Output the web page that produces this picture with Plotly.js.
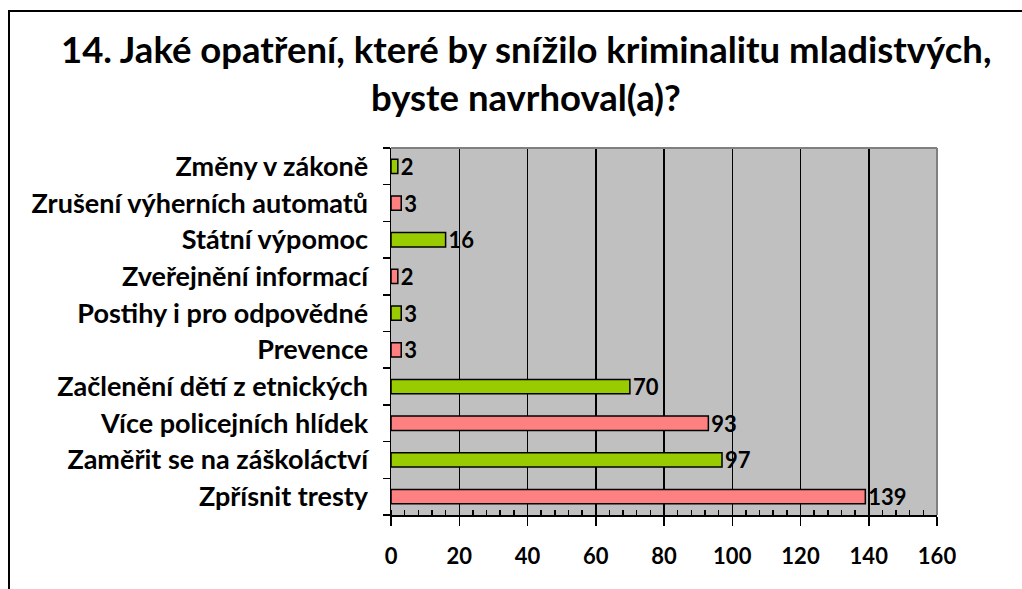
<!DOCTYPE html>
<html>
<head>
<meta charset="utf-8">
<script src="https://cdn.plot.ly/plotly-3.0.1.min.js"></script>
<style>
html,body{margin:0;padding:0;background:#fff;}
#chart{width:1022px;height:589px;}
</style>
</head>
<body>
<div id="chart"></div>
<script>
const categories = [
  "Zpřísnit tresty",
  "Zaměřit se na záškoláctví",
  "Více policejních hlídek",
  "Začlenění dětí z etnických",
  "Prevence",
  "Postihy i pro odpovědné",
  "Zveřejnění informací",
  "Státní výpomoc",
  "Zrušení výherních automatů",
  "Změny v zákoně"
];
const values = [139, 97, 93, 70, 3, 3, 2, 16, 3, 2];
const xTicks = [0, 20, 40, 60, 80, 100, 120, 140, 160];
const titleLines = [
  "14. Jaké opatření, které by snížilo kriminalitu mladistvých,",
  "byste navrhoval(a)?"
];

const PINK = "#FF8080", GREEN = "#99CC00";
const barColors = categories.map((c, i) => (i % 2 === 0 ? PINK : GREEN));

// plot area in pixels
const W = 1022, H = 589;
const L = 391, R = 937, T = 148, B = 515;
const pw = R - L, ph = B - T;
const px = x => (x - L) / pw;
const py = y => (B - y) / ph;

const FONT = "Lato, 'Open Sans', sans-serif";

const trace = {
  type: "bar",
  orientation: "h",
  y: categories,
  x: values,
  marker: { color: barColors, line: { color: "#000", width: 1.5 } },
  text: values.map(String),
  textposition: "outside",
  constraintext: "none",
  cliponaxis: false,
  textfont: { family: FONT, size: 22, color: "#000", weight: "bold" },
  hoverinfo: "skip"
};

const titleMid = [49, 97];
const annotations = titleLines.map((t, i) => ({
  text: t, showarrow: false,
  xref: "paper", yref: "paper",
  x: px(526), y: py(titleMid[i]),
  xanchor: "center", yanchor: "middle",
  font: { family: FONT, size: 36.5, color: "#000", weight: "bold" }
}));

const layout = {
  width: W, height: H,
  margin: { l: L, r: W - R, t: T, b: H - B, pad: 0 },
  paper_bgcolor: "#fff",
  plot_bgcolor: "#C0C0C0",
  showlegend: false,
  bargap: 0.61,
  annotations: annotations,
  xaxis: {
    range: [0, 160],
    tickvals: xTicks,
    ticktext: xTicks.map(String),
    showgrid: true, gridcolor: "#000", gridwidth: 1.5,
    zeroline: false,
    showline: true, linecolor: "#000", linewidth: 1.5,
    ticks: "outside", ticklen: 9, tickwidth: 1.5, tickcolor: "#000",
    ticklabelstandoff: 12,
    minor: { dtick: 4, ticks: "inside", ticklen: 5, tickwidth: 1.5, tickcolor: "#000", showgrid: false },
    tickfont: { family: FONT, size: 22, color: "#000", weight: "bold" },
    fixedrange: true
  },
  yaxis: {
    type: "category",
    tickson: "boundaries",
    showgrid: false,
    zeroline: false,
    showline: true, linecolor: "#000", linewidth: 1.5,
    ticks: "outside", ticklen: 7, tickwidth: 1.5, tickcolor: "#000",
    ticklabelstandoff: 16,
    tickfont: { family: FONT, size: 27, color: "#000", weight: "bold" },
    fixedrange: true
  },
  shapes: [
    { type: "line", xref: "paper", yref: "paper", x0: 0, x1: 1, y0: 1, y1: 1, line: { color: "#808080", width: 2 } },
    { type: "line", xref: "paper", yref: "paper", x0: 1, x1: 1, y0: 0, y1: 1, line: { color: "#808080", width: 2 } },
    { type: "rect", xref: "paper", yref: "paper",
      x0: px(9), x1: px(1040), y0: py(620), y1: py(11),
      line: { color: "#000", width: 2 }, fillcolor: "rgba(0,0,0,0)" }
  ]
};

Plotly.newPlot("chart", [trace], layout, { staticPlot: true, displayModeBar: false });
</script>
</body>
</html>
